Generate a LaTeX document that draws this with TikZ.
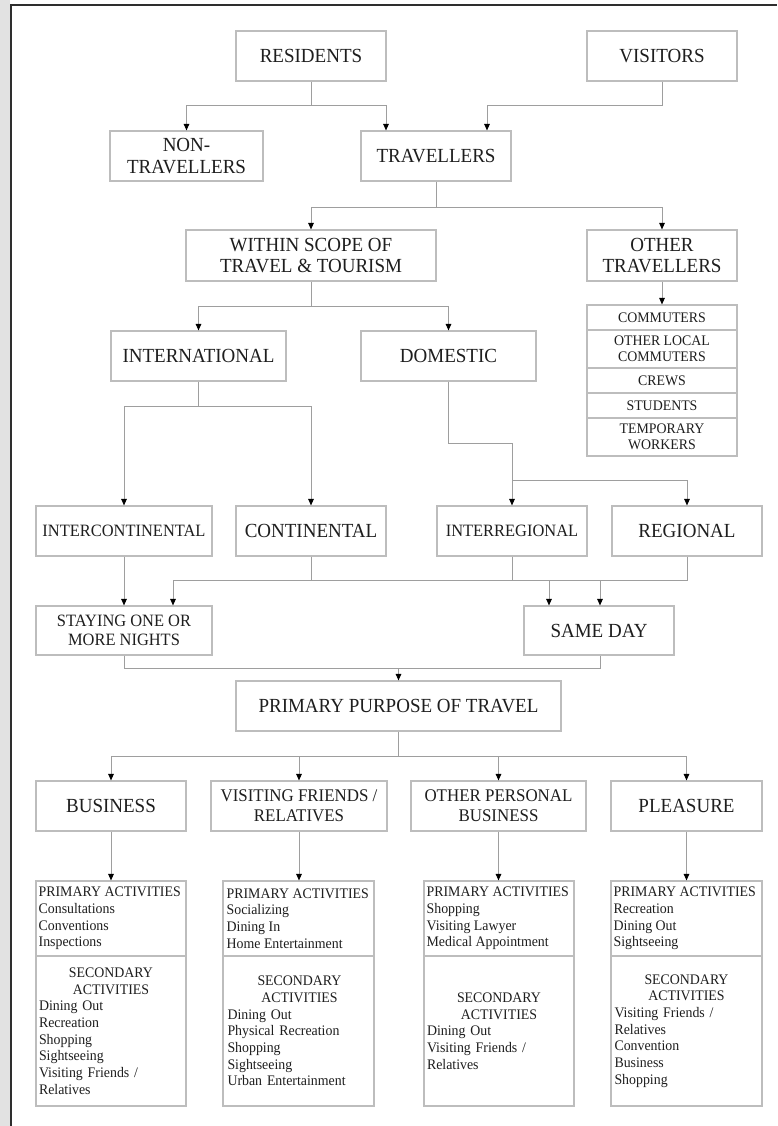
\documentclass[tikz,border=0pt]{standalone}
\usepackage{fontspec}
\setmainfont{Liberation Serif}[FakeStretch=0.95]
\usetikzlibrary{arrows.meta,calc}
\definecolor{boxgray}{HTML}{BDBDBD}
\definecolor{linegray}{HTML}{9E9E9E}
\definecolor{txt}{HTML}{1E1E1E}
\definecolor{framec}{HTML}{2E2E2E}
\definecolor{stripc}{HTML}{E2E2E2}
\begin{document}
\begin{tikzpicture}[x=1pt,y=-1pt,
  box/.style={draw=boxgray,line width=1.1pt,align=center,inner sep=0pt,text=txt,
    font=\fontsize{20}{21.7}\selectfont,minimum height=50pt},
  smallbox/.style={box,font=\fontsize{17.3}{19.3}\selectfont},
  midbox/.style={box,font=\fontsize{17.8}{20}\selectfont},
  lbox/.style={draw=boxgray,line width=1.1pt,align=center,inner sep=0pt,text=txt,
    font=\fontsize{14.6}{16}\selectfont,minimum width=150pt},
  sect/.style={draw=boxgray,line width=1.1pt,inner sep=0pt},
  acttext/.style={inner sep=0pt,align=left,text=txt,font=\fontsize{14.6}{16.7}\selectfont},
  actlow/.style={inner sep=0pt,align=left,text=txt,font=\fontsize{14.6}{16.7}\selectfont,text width=144pt},
  conn/.style={draw=linegray,line width=1pt},
  arr/.style={conn,-{Triangle[width=5.5pt,length=6.5pt,color=black]}},
  framel/.style={draw=framec,line width=2pt}
]
\useasboundingbox (0,0) rectangle (777,1126);
\fill[white] (0,0) rectangle (777,1126);
\fill[stripc] (0,0) rectangle (10,1126);
\draw[framel] (10,5.5) -- (777,5.5);
\draw[framel] (11,4.5) -- (11,1126);

% row 1-2
\node[box,minimum width=150pt] (res) at (311,56) {RESIDENTS};
\node[box,minimum width=150pt] (vis) at (662,56) {VISITORS};
\node[box,minimum width=153pt] (non) at (186.5,156) {NON-\\TRAVELLERS};
\node[box,minimum width=150pt] (trav) at (436,156) {TRAVELLERS};

% row 3
\node[box,minimum width=250pt,minimum height=51pt] (within) at (311,255.5) {WITHIN SCOPE OF\\TRAVEL \& TOURISM};
\node[box,minimum width=150pt,minimum height=51pt] (other) at (662,255.5) {OTHER\\TRAVELLERS};

% other travellers list
\node[lbox,minimum height=25pt] (comm) at (662,317.5) {COMMUTERS};
\node[lbox,minimum height=38pt] (olc) at (662,349) {OTHER LOCAL\\COMMUTERS};
\node[lbox,minimum height=25pt] (crews) at (662,380.5) {CREWS};
\node[lbox,minimum height=25pt] (stud) at (662,405.5) {STUDENTS};
\node[lbox,minimum height=38pt] (temp) at (662,437) {TEMPORARY\\WORKERS};

% row 4
\node[box,minimum width=175pt] (intl) at (198.5,356) {INTERNATIONAL};
\node[box,minimum width=175pt] (dom) at (448.5,356) {DOMESTIC};

% row 5
\node[smallbox,minimum width=176pt] (interc) at (124,531) {INTERCONTINENTAL};
\node[box,minimum width=150pt] (contin) at (311,531) {CONTINENTAL};
\node[smallbox,minimum width=150pt] (interreg) at (512,531) {INTERREGIONAL};
\node[box,minimum width=150pt] (regional) at (687,531) {REGIONAL};

% row 6
\node[smallbox,minimum width=176pt,minimum height=49pt] (staying) at (124,630.5) {STAYING ONE OR\\MORE NIGHTS};
\node[box,minimum width=150pt,minimum height=49pt] (sameday) at (599,630.5) {SAME DAY};

% primary purpose
\node[box,minimum width=325pt] (primary) at (398.5,706) {PRIMARY PURPOSE OF TRAVEL};

% row 7
\node[box,minimum width=150pt] (bus) at (111,806) {BUSINESS};
\node[midbox,minimum width=176pt] (vfr) at (299,806) {VISITING FRIENDS /\\RELATIVES};
\node[midbox,minimum width=175pt] (opb) at (498.5,806) {OTHER PERSONAL\\BUSINESS};
\node[box,minimum width=151pt] (pleas) at (686.5,806) {PLEASURE};

% activity boxes
\node[sect,minimum width=150pt,minimum height=75pt] (busup) at (111,918.5) {};
\node[sect,minimum width=150pt,minimum height=150pt] (buslo) at (111,1031) {};
\node[sect,minimum width=151pt,minimum height=75pt] (vfrup) at (298.5,918.5) {};
\node[sect,minimum width=151pt,minimum height=150pt] (vfrlo) at (298.5,1031) {};
\node[sect,minimum width=150pt,minimum height=75pt] (opbup) at (499,918.5) {};
\node[sect,minimum width=150pt,minimum height=150pt] (opblo) at (499,1031) {};
\node[sect,minimum width=151pt,minimum height=75pt] (plup) at (686.5,918.5) {};
\node[sect,minimum width=151pt,minimum height=150pt] (pllo) at (686.5,1031) {};

\node[acttext,anchor=west] (bust) at ([xshift=3pt]busup.west) {PRIMARY ACTIVITIES\\Consultations\\Conventions\\Inspections};
\node[acttext,anchor=west] (vfrt) at ([xshift=4pt]vfrup.west) {PRIMARY ACTIVITIES\\Socializing\\Dining In\\Home Entertainment};
\node[acttext,anchor=west] (opbt) at ([xshift=3pt]opbup.west) {PRIMARY ACTIVITIES\\Shopping\\Visiting Lawyer\\Medical Appointment};
\node[acttext,anchor=west] (plt) at ([xshift=3pt]plup.west) {PRIMARY ACTIVITIES\\Recreation\\Dining Out\\Sightseeing};

\node[actlow] (busl) at (buslo.center) {{\centering SECONDARY\\ACTIVITIES\par}Dining Out\\Recreation\\Shopping\\Sightseeing\\Visiting Friends /\\Relatives};
\node[actlow] (vfrl) at ([xshift=1pt]vfrlo.center) {{\centering SECONDARY\\ACTIVITIES\par}Dining Out\\Physical Recreation\\Shopping\\Sightseeing\\Urban Entertainment};
\node[actlow] (opbl) at (opblo.center) {{\centering SECONDARY\\ACTIVITIES\par}Dining Out\\Visiting Friends /\\Relatives};
\node[actlow] (pll) at (pllo.center) {{\centering SECONDARY\\ACTIVITIES\par}Visiting Friends /\\Relatives\\Convention\\Business\\Shopping};

% connectors top
\draw[conn] (res.south) -- ++(0,24) coordinate (r1);
\coordinate (tA) at ([xshift=-50pt]trav.north);
\coordinate (tB) at ([xshift=51pt]trav.north);
\draw[arr] (r1) -| (non.north);
\draw[arr] (r1) -| (tA);
\draw[conn] (vis.south) -- ++(0,24) coordinate (v1);
\draw[arr] (v1) -| (tB);

\draw[conn] (trav.south) -- ++(0,26) coordinate (t1);
\draw[arr] (t1) -| (within.north);
\draw[arr] (t1) -| (other.north);
\draw[arr] (other.south) -- (comm.north);

\draw[conn] (within.south) -- ++(0,25) coordinate (w1);
\draw[arr] (w1) -| (intl.north);
\draw[arr] (w1) -| (dom.north);

\draw[conn] (intl.south) -- ++(0,25) coordinate (i1);
\draw[arr] (i1) -| (interc.north);
\draw[arr] (i1) -| (contin.north);

\draw[conn] (dom.south) -- ++(0,62) coordinate (d1);
\draw[arr] (d1) -| (interreg.north);
\coordinate (d2) at ([yshift=25pt]interreg.north);
\draw[arr] (d2) -| (regional.north);

% row 5 -> row 6
\draw[arr] (interc.south) -- (staying.north);
\draw[conn] (contin.south) -- ++(0,24) coordinate (h1);
\coordinate (sA) at ([xshift=49pt]staying.north);
\coordinate (sB) at ([xshift=-50pt]sameday.north);
\coordinate (sC) at ([xshift=1pt]sameday.north);
\coordinate (hL) at (sA |- h1);
\draw[conn] (hL) -- (regional.south |- h1) -- (regional.south);
\draw[conn] (interreg.south) -- (interreg.south |- h1);
\draw[arr] (hL) -- (sA);
\draw[arr] (sB |- h1) -- (sB);
\draw[arr] (sC |- h1) -- (sC);

% row 6 -> primary
\draw[conn] (staying.south) -- ++(0,13) coordinate (p1) -| (sC |- sameday.south);
\draw[arr] (primary.north |- p1) -- (primary.north);

% primary -> row 7
\draw[conn] (primary.south) -- ++(0,25) coordinate (q1);
\draw[arr] (q1) -| (bus.north);
\draw[arr] (q1) -| (vfr.north);
\draw[arr] (q1) -| (opb.north);
\draw[arr] (q1) -| (pleas.north);

% row 7 -> activities
\draw[arr] (bus.south) -- (busup.north);
\draw[arr] (vfr.south) -- (vfr.south |- vfrup.north);
\draw[arr] (opb.south) -- (opb.south |- opbup.north);
\draw[arr] (pleas.south) -- (plup.north);
\end{tikzpicture}
\end{document}
